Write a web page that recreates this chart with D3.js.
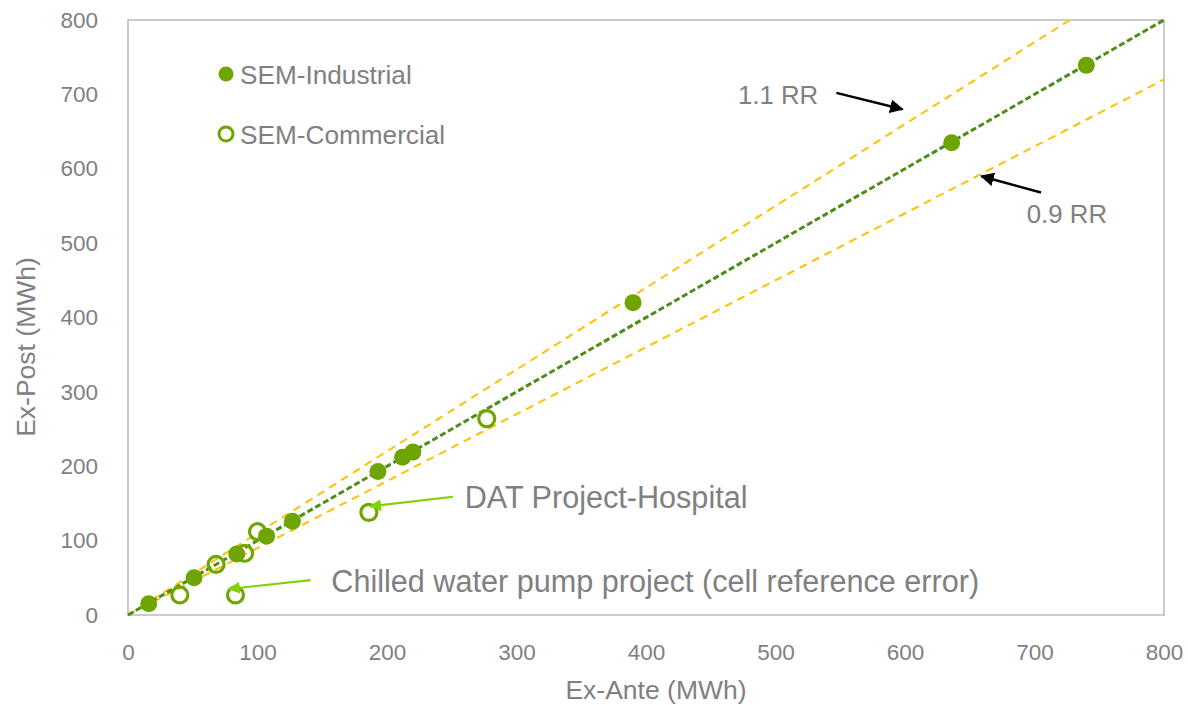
<!DOCTYPE html>
<html>
<head>
<meta charset="utf-8">
<script src="https://cdn.jsdelivr.net/npm/d3@7/dist/d3.min.js"></script>
<style>
  html, body { margin: 0; padding: 0; background: #fff; }
  svg { display: block; font-family: "Liberation Sans", Arial, sans-serif; }
</style>
</head>
<body>
<svg id="chart" width="1188" height="705"></svg>
<script>
// Savings comparison: ex-ante vs ex-post (MWh)
const industrialX = [16, 51, 84, 107, 127, 193, 212, 220, 390, 636, 740];
const industrialY = [15, 50, 82, 106, 126, 193, 212, 219, 420, 635, 739];
const commercialX = [40, 68, 90, 100, 83, 186, 277];
const commercialY = [27, 68, 83, 112, 27, 138, 264];

const tickValues = [0, 100, 200, 300, 400, 500, 600, 700, 800];
const seriesNames = ["SEM-Industrial", "SEM-Commercial"];
const ratioLines = [1.1, 0.9];

// Callouts, positioned in data units
const rrLabels = [
  { text: "1.1 RR", tx: 471, ty: 699, x1: 547, y1: 702, x2: 598, y2: 680 },
  { text: "0.9 RR", tx: 694, ty: 539, x1: 705, y1: 568, x2: 659, y2: 590 }
];
const projectNotes = [
  { text: "DAT Project-Hospital", tx: 260, ty: 159, x1: 251, y1: 159, x2: 187, y2: 146 },
  { text: "Chilled water pump project (cell reference error)", tx: 157, ty: 46, x1: 141, y1: 47, x2: 78, y2: 35 }
];

const green = "#6ea503";
const darkGreen = "#4d8c16";
const amber = "#ffc000";
const lime = "#82d106";
const grey = "#808080";

const svg = d3.select("#chart");
const x = d3.scaleLinear().domain([0, 800]).range([128, 1164]);
const y = d3.scaleLinear().domain([0, 800]).range([615, 20]);

const defs = svg.append("defs");
function arrowHead(id, color) {
  defs.append("marker")
    .attr("id", id)
    .attr("viewBox", "0 0 10 10")
    .attr("refX", 9).attr("refY", 5)
    .attr("markerWidth", 5.5).attr("markerHeight", 5.5)
    .attr("markerUnits", "strokeWidth")
    .attr("orient", "auto")
    .append("path").attr("d", "M0,0 L10,5 L0,10 Z").attr("fill", color);
}
arrowHead("headBlack", "#000");
arrowHead("headLime", lime);

// plot frame
svg.append("rect")
  .attr("x", x(0)).attr("y", y(800))
  .attr("width", x(800) - x(0)).attr("height", y(0) - y(800))
  .attr("fill", "none").attr("stroke", "#bfbfbf").attr("stroke-width", 1.6);

// axes
const yAxis = svg.append("g").attr("transform", `translate(${x(0)},0)`)
  .call(d3.axisLeft(y).tickValues(tickValues).tickSize(0).tickPadding(30));
const xAxis = svg.append("g").attr("transform", `translate(0,${y(0)})`)
  .call(d3.axisBottom(x).tickValues(tickValues).tickSize(0).tickPadding(29));
[xAxis, yAxis].forEach(g => {
  g.select(".domain").remove();
  g.selectAll("text").attr("fill", grey).style("font-size", "22.5px")
    .style("font-family", "'Liberation Sans', Arial, sans-serif");
});

svg.append("text")
  .attr("x", 656).attr("y", 690)
  .attr("text-anchor", "middle").attr("dominant-baseline", "central")
  .attr("fill", grey).style("font-size", "26.5px")
  .text("Ex-Ante (MWh)");
svg.append("text")
  .attr("transform", "translate(26,347) rotate(-90)")
  .attr("text-anchor", "middle").attr("dominant-baseline", "central")
  .attr("fill", grey).style("font-size", "26.5px")
  .text("Ex-Post (MWh)");

// reference lines: 0.9 / 1.1 realization rate and 1:1
ratioLines.forEach(k => {
  const xEnd = Math.min(800, 800 / k);
  svg.append("line")
    .attr("x1", x(0)).attr("y1", y(0))
    .attr("x2", x(xEnd)).attr("y2", y(k * xEnd))
    .attr("stroke", amber).attr("stroke-width", 2)
    .attr("stroke-dasharray", "8,6");
});
svg.append("line")
  .attr("x1", x(0)).attr("y1", y(0))
  .attr("x2", x(800)).attr("y2", y(800))
  .attr("stroke", darkGreen).attr("stroke-width", 3)
  .attr("stroke-dasharray", "6,3");

// points
svg.append("g").selectAll("circle")
  .data(industrialX.map((v, i) => [v, industrialY[i]]))
  .join("circle")
  .attr("cx", d => x(d[0])).attr("cy", d => y(d[1]))
  .attr("r", 8.5).attr("fill", green);
svg.append("g").selectAll("circle")
  .data(commercialX.map((v, i) => [v, commercialY[i]]))
  .join("circle")
  .attr("cx", d => x(d[0])).attr("cy", d => y(d[1]))
  .attr("r", 8).attr("fill", "none")
  .attr("stroke", green).attr("stroke-width", 3.2);

// legend
const legend = svg.append("g");
seriesNames.forEach((name, i) => {
  const cy = 74 + i * 60;
  if (i === 0) {
    legend.append("circle").attr("cx", 226).attr("cy", cy).attr("r", 7.5).attr("fill", green);
  } else {
    legend.append("circle").attr("cx", 226).attr("cy", cy).attr("r", 7)
      .attr("fill", "none").attr("stroke", green).attr("stroke-width", 3);
  }
  legend.append("text").attr("x", 240).attr("y", cy + 1)
    .attr("dominant-baseline", "central")
    .attr("fill", grey).style("font-size", "26.2px").text(name);
});

// realization-rate callouts
rrLabels.forEach(d => {
  svg.append("text").attr("x", x(d.tx)).attr("y", y(d.ty))
    .attr("dominant-baseline", "central")
    .attr("fill", grey).style("font-size", "25.8px").text(d.text);
  svg.append("line")
    .attr("x1", x(d.x1)).attr("y1", y(d.y1))
    .attr("x2", x(d.x2)).attr("y2", y(d.y2))
    .attr("stroke", "#000").attr("stroke-width", 2.5)
    .attr("marker-end", "url(#headBlack)");
});

// project notes
projectNotes.forEach(d => {
  svg.append("text").attr("x", x(d.tx)).attr("y", y(d.ty))
    .attr("dominant-baseline", "central")
    .attr("fill", grey).style("font-size", "30.6px").text(d.text);
  svg.append("line")
    .attr("x1", x(d.x1)).attr("y1", y(d.y1))
    .attr("x2", x(d.x2)).attr("y2", y(d.y2))
    .attr("stroke", lime).attr("stroke-width", 2.2)
    .attr("marker-end", "url(#headLime)");
});
</script>
</body>
</html>
